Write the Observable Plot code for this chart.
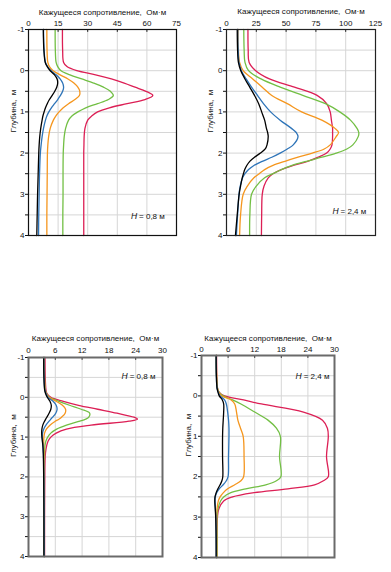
<!DOCTYPE html>
<html><head><meta charset="utf-8">
<script src="https://cdn.jsdelivr.net/npm/d3@7"></script>
<script src="https://cdn.jsdelivr.net/npm/@observablehq/plot@0.6"></script>
<style>
body{margin:0;background:#fff;}
#wrap{position:relative;width:391px;height:572px;overflow:hidden;background:#fff;}
.panel{position:absolute;}
.panel svg{background:transparent !important;overflow:visible;}
</style></head><body><div id="wrap"></div>
<script>
// Series (drawing order: red first, black on top)
const seriesNames = ["curve 5","curve 4","curve 3","curve 2","curve 1"];
const seriesColors = ["#dc1f55","#72bf44","#f5961e","#2e74b8","#000000"];
const xTitle = "Кажущееся сопротивление,  Ом·м";
const yTitle = "Глубина,  м";

// Panel 1 (H = 0,8 м, upper)
const xTicks1 = [0,15,30,45,60,75];
const depth1 = [-1,-0.5,-0.2,-0.1,0,0.1,0.2,0.3,0.4,0.5,0.6,0.7,0.8,0.9,1.0,1.1,1.2,1.4,1.6,1.8,2.0,2.5,3.0,3.5,4.0];
const black1 = [7.5,7.8,8.5,9.5,11,13.2,14.5,14.8,14.3,13.3,12,10.6,9.5,8.6,7.9,7.3,6.9,6.2,5.7,5.4,5.2,4.9,4.6,4.4,4.2];
const blue1 = [7.6,7.9,8.6,9.7,11.5,14,16,17.3,17.8,17.3,16.2,14.8,13.2,11.6,10.3,9.3,8.6,7.6,6.9,6.4,6.0,5.6,5.4,5.2,5.1];
const orange1 = [9.3,9.4,9.8,10.6,12.5,16,20,23,25,26,25.8,23.5,20.3,17.6,15.5,13.8,12.6,11,10.2,9.8,9.6,9.5,9.4,9.3,9.3];
const green1 = [13.5,13.6,14,14.8,16.5,21,27,33,38,41.5,43,40.5,35,29,25,22,20.3,18.8,18.1,17.8,17.6,17.5,17.5,17.4,17.4];
const red1 = [17.2,17.3,17.8,19.5,24.5,34,42,48.5,54,59.5,63,59,50,41,35,32,30,28.6,28.2,28.1,28,28,28,28,28];
const note1 = "= 0,8 м";

// Panel 2 (H = 2,4 м, upper)
const xTicks2 = [0,25,50,75,100,125];
const depth2 = [-1,-0.5,-0.2,0,0.2,0.4,0.6,0.8,1.0,1.2,1.4,1.5,1.6,1.8,1.9,2.0,2.1,2.2,2.3,2.4,2.5,2.6,2.8,3.0,3.5,4.0];
const black2 = [9,9.3,10,12,15.5,19.5,23.5,27,29.5,32,33.5,34.5,35,34,32.5,28.5,23.5,19.5,17,15.3,14.2,13.2,11.8,10.6,9,7.5];
const blue2 = [9.5,9.8,10.5,12.5,16.5,21,26,31,37,45,54.5,58.5,60,56,51,45,38,30,23,18.5,15.5,13.5,11.5,10.5,9.3,8.3];
const orange2 = [9.8,10,11,14,22,30,38,51,63,80,91,94,92,87,82,72,60,49,39,32,27.5,23,17.5,14,11.8,11];
const green2 = [14.5,14.8,15.5,18.5,29,45,64,83,95,104,109.5,111,110.5,106,101,92,80,67,55,46,39,32,25,21,19.6,19.4];
const red2 = [18,18.2,19,24.5,36,57,76,84,87,88,89,89,89,88.5,87,84,77,68,56,46,39,35,31.5,30,29.5,29.3];
const note2 = "= 2,4 м";

// Panel 3 (H = 0,8 м, lower)
const xTicks3 = [0,6,12,18,24,30];
const depth3 = [-1,-0.5,-0.2,-0.1,0,0.1,0.2,0.3,0.4,0.5,0.55,0.6,0.7,0.8,0.9,1.0,1.1,1.2,1.4,1.6,2.0,3.0,4.0];
const black3 = [3.4,3.45,3.6,3.8,4.2,4.8,5.1,5.0,4.6,4.1,3.85,3.6,3.2,3.0,2.95,3.0,3.1,3.2,3.3,3.35,3.4,3.45,3.45];
const blue3 = [3.45,3.5,3.65,3.9,4.4,5.5,6.2,6.4,6.1,5.4,5.0,4.6,3.9,3.4,3.15,3.1,3.15,3.25,3.35,3.4,3.45,3.5,3.5];
const orange3 = [3.5,3.55,3.7,3.95,4.6,6.2,7.6,8.3,8.2,7.4,6.8,6.0,4.8,4.0,3.6,3.45,3.4,3.4,3.45,3.5,3.5,3.5,3.5];
const green3 = [3.55,3.6,3.75,4.0,4.7,6.8,9.2,11.8,13.7,13.5,12.8,11.5,8.5,6.3,5.0,4.3,3.9,3.7,3.6,3.55,3.55,3.55,3.55];
const red3 = [3.7,3.75,3.9,4.1,5.0,7.8,11.2,15.5,19.8,23.6,24.4,22.5,14,8.5,6.2,5.0,4.4,4.1,3.8,3.7,3.65,3.6,3.6];
const note3 = "= 0,8 м";

// Panel 4 (H = 2,4 м, lower)
const xTicks4 = [0,6,12,18,24,30];
const depth4 = [-1,-0.5,-0.2,-0.1,0,0.1,0.2,0.4,0.6,0.8,1.0,1.5,2.0,2.1,2.2,2.3,2.4,2.5,2.6,2.8,3.0,3.5,4.0];
const black4 = [3.3,3.35,3.5,3.7,4.0,4.7,5.0,5.0,4.9,4.8,4.75,4.75,4.8,4.6,4.2,3.7,3.3,3.05,3.0,3.1,3.2,3.3,3.3];
const blue4 = [3.3,3.35,3.5,3.75,4.2,5.2,5.6,5.9,6.1,6.2,6.2,6.1,6.0,5.6,4.9,4.0,3.4,3.1,3.05,3.15,3.25,3.3,3.35];
const orange4 = [3.35,3.4,3.55,3.85,4.6,6.7,7.5,7.9,8.2,8.8,9.4,9.6,9.5,8.9,7.5,5.9,4.9,4.2,3.8,3.5,3.4,3.4,3.4];
const green4 = [3.35,3.4,3.6,3.9,4.9,7.0,8.9,12.0,15.0,16.9,17.8,17.6,17.9,16.9,14.5,10.0,6.5,5.0,4.3,3.7,3.5,3.5,3.5];
const red4 = [3.4,3.45,3.6,3.9,5.2,9.5,13.5,23.0,27.3,28.4,28.6,28.2,28.6,27.5,25.5,19.5,11.5,7.0,5.0,3.9,3.6,3.5,3.5];
const note4 = "= 2,4 м";

const FONT = '"Liberation Sans Narrow","Liberation Sans",Arial,sans-serif';

function panel(cfg) {
  const {left, top, width, height, mt, mr, mb, ml, xTicks, depth, series, note, noteX, noteY,
         frameStroke, frameWidth, yLabelDx, titleDy, tickPad} = cfg;
  const rows = [];
  series.forEach((vals, k) => vals.forEach((v, i) => rows.push({s: seriesNames[k], x: v, y: depth[i]})));
  const halfTicks = d3.range(-1, 4.001, 0.5);
  const xMax = xTicks[xTicks.length - 1];
  const svg = Plot.plot({
    width, height, marginTop: mt, marginRight: mr, marginBottom: mb, marginLeft: ml,
    style: {fontFamily: FONT, fontSize: "8px", color: "#111", background: "transparent"},
    x: {domain: [0, xMax], axis: null},
    y: {domain: [-1, 4], reverse: true, axis: null},
    color: {type: "ordinal", domain: seriesNames, range: seriesColors},
    marks: [
      Plot.gridX(xTicks, {stroke: "#d6d6d6", strokeOpacity: 1}),
      Plot.gridY(halfTicks, {stroke: "#d6d6d6", strokeOpacity: 1}),
      Plot.ruleX(xTicks, {x: d => d, y1: -1, y2: -0.93, stroke: "#222"}),
      Plot.axisX(xTicks, {anchor: "top", tickSize: 0, tickPadding: tickPad, label: null, tickFormat: d => String(d)}),
      Plot.axisY(halfTicks, {anchor: "left", tickSize: 3, tickPadding: 1, label: null,
        tickFormat: d => Number.isInteger(d) ? String(d) : ""}),
      Plot.line(rows, {x: "x", y: "y", z: "s", stroke: "s", strokeWidth: 1.3, curve: "catmull-rom"}),
      Plot.frame({stroke: frameStroke, strokeWidth: frameWidth}),
      Plot.text([xTitle], {text: d => d, frameAnchor: "top", dy: titleDy, fontSize: 8}),
      Plot.text([yTitle], {text: d => d, frameAnchor: "left", rotate: -90, dx: yLabelDx, fontSize: 8}),
      Plot.text(["H"], {text: d => d, x: () => noteX, y: () => noteY, textAnchor: "end", fontStyle: "italic", fontSize: 8.5}),
      Plot.text([note], {text: d => d, x: () => noteX, y: () => noteY, textAnchor: "start", dx: 2, fontSize: 8})
    ]
  });
  const div = document.createElement("div");
  div.className = "panel";
  div.style.left = left + "px";
  div.style.top = top + "px";
  div.style.width = width + "px";
  div.style.height = height + "px";
  div.appendChild(svg);
  document.getElementById("wrap").appendChild(div);
}

panel({left: 0, top: 0, width: 195, height: 250, mt: 29, mr: 19, mb: 15, ml: 28,
  xTicks: xTicks1, depth: depth1, series: [red1, green1, orange1, blue1, black1],
  note: note1, noteX: 55, noteY: 3.54, frameStroke: "#111", frameWidth: 1.2, yLabelDx: -15, titleDy: -20.5, tickPad: 4});
panel({left: 195, top: 0, width: 196, height: 250, mt: 29, mr: 16, mb: 15, ml: 31,
  xTicks: xTicks2, depth: depth2, series: [red2, green2, orange2, blue2, black2],
  note: note2, noteX: 94, noteY: 3.42, frameStroke: "#222", frameWidth: 1.2, yLabelDx: -16, titleDy: -21, tickPad: 4});
panel({left: 0, top: 320, width: 195, height: 252, mt: 37, mr: 33, mb: 16, ml: 28,
  xTicks: xTicks3, depth: depth3, series: [red3, green3, orange3, blue3, black3],
  note: note3, noteX: 22.2, noteY: -0.52, frameStroke: "#6a6a6a", frameWidth: 2, yLabelDx: -15, titleDy: -22, tickPad: 5});
panel({left: 183, top: 320, width: 208, height: 252, mt: 35, mr: 57, mb: 15, ml: 18,
  xTicks: xTicks4, depth: depth4, series: [red4, green4, orange4, blue4, black4],
  note: note4, noteX: 22.6, noteY: -0.48, frameStroke: "#6a6a6a", frameWidth: 2, yLabelDx: -13, titleDy: -20, tickPad: 4});
</script>
</body></html>
